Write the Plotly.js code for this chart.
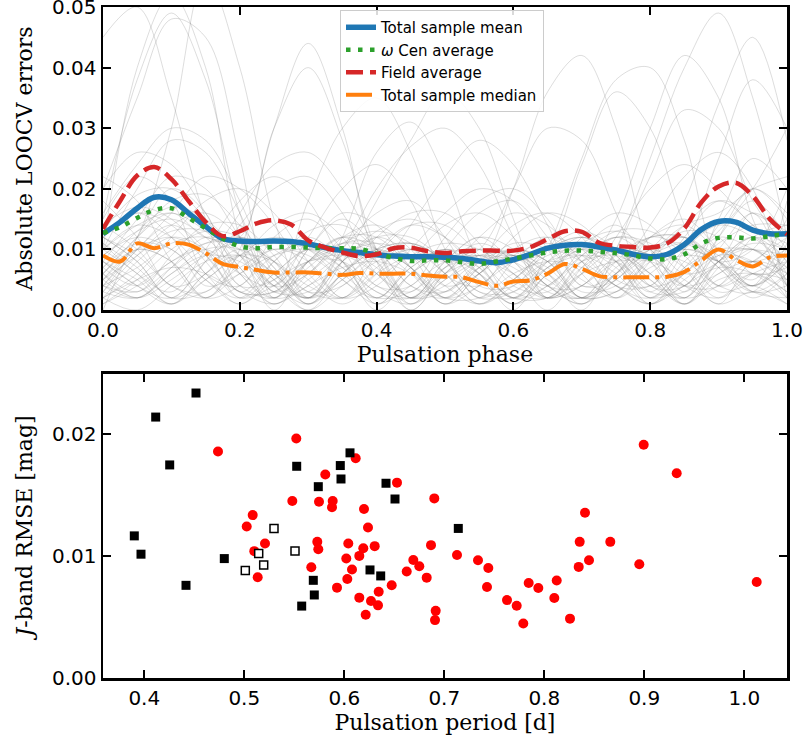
<!DOCTYPE html>
<html>
<head>
<meta charset="utf-8">
<script src="https://cdn.plot.ly/plotly-3.0.1.min.js"></script>
<style>html,body{margin:0;padding:0;background:#fff;}#chart{width:805px;height:738px;}</style>
</head>
<body>
<div id="chart"></div>
<script>
// ---------- Top panel: phase grid ----------
const phaseCoarse = [0,0.05,0.1,0.15,0.2,0.25,0.3,0.35,0.4,0.45,0.5,0.55,0.6,0.65,0.7,0.75,0.8,0.85,0.9,0.95,1.0];
const phaseFine = [0,0.025,0.05,0.075,0.1,0.125,0.15,0.175,0.2,0.225,0.25,0.275,0.3,0.325,0.35,0.375,0.4,0.425,0.45,0.475,0.5,0.525,0.55,0.575,0.6,0.625,0.65,0.675,0.7,0.725,0.75,0.775,0.8,0.825,0.85,0.875,0.9,0.925,0.95,0.975,1.0];

// individual star LOOCV error curves (grey)
const starCurves = [
 [.010,.040,.052,.040,.012,.000,.008,.012,.008,.000,.006,.010,.006,.000,.007,.012,.010,.003,.010,.016,.012],
 [.020,.035,.048,.045,.025,.002,.010,.015,.010,.002,.008,.012,.008,.004,.010,.014,.008,.004,.015,.025,.020],
 [.005,.010,.008,.002,.010,.030,.044,.030,.008,.000,.006,.009,.005,.002,.008,.010,.006,.001,.007,.012,.008],
 [.008,.004,.001,.006,.009,.005,.000,.006,.010,.007,.001,.006,.010,.006,.000,.010,.025,.040,.049,.035,.012],
 [.012,.008,.002,.008,.012,.008,.001,.008,.018,.028,.036,.030,.015,.002,.008,.012,.008,.001,.008,.012,.010],
 [.003,.010,.014,.010,.002,.006,.010,.007,.000,.006,.010,.008,.020,.036,.042,.030,.010,.002,.012,.020,.015],
 [.015,.022,.018,.006,.004,.012,.015,.010,.002,.007,.010,.006,.000,.010,.025,.038,.040,.028,.008,.004,.010],
 [.006,.002,.007,.012,.010,.003,.006,.010,.008,.001,.007,.011,.008,.002,.006,.015,.030,.042,.035,.015,.004],
 [.000,.012,.020,.016,.004,.005,.010,.008,.001,.006,.009,.006,.001,.006,.010,.008,.003,.010,.025,.038,.030],
 [.010,.006,.001,.006,.010,.006,.002,.012,.026,.031,.022,.008,.002,.008,.012,.008,.001,.007,.012,.010,.006],
 [.004,.012,.030,.055,.040,.015,.002,.008,.012,.009,.002,.006,.009,.006,.001,.007,.010,.007,.002,.006,.008],
 [.045,.050,.035,.015,.003,.008,.012,.008,.001,.006,.009,.007,.002,.007,.011,.009,.002,.008,.013,.020,.030],
 [.008,.015,.022,.020,.012,.004,.012,.020,.024,.018,.006,.004,.010,.012,.008,.002,.008,.014,.018,.014,.008],
 [.018,.012,.004,.006,.014,.020,.022,.016,.006,.003,.010,.016,.018,.012,.004,.005,.012,.015,.010,.004,.018],
 [.002,.008,.012,.010,.004,.002,.008,.012,.010,.004,.003,.008,.010,.008,.003,.004,.009,.012,.008,.003,.002],
 [.010,.020,.028,.026,.016,.004,.006,.012,.014,.010,.004,.006,.012,.016,.014,.008,.002,.006,.010,.008,.010],
 [.006,.003,.009,.014,.014,.009,.002,.005,.010,.014,.012,.007,.002,.006,.012,.016,.014,.007,.001,.008,.006],
 [.012,.016,.012,.004,.006,.010,.008,.002,.006,.014,.022,.028,.024,.014,.004,.006,.012,.010,.004,.008,.012],
 [.004,.010,.016,.022,.020,.014,.006,.002,.009,.014,.014,.009,.002,.004,.009,.012,.011,.006,.008,.016,.004],
 [.014,.010,.004,.003,.009,.012,.010,.005,.002,.007,.010,.008,.003,.002,.007,.010,.009,.004,.004,.012,.014],
 [.007,.004,.008,.010,.006,.004,.018,.030,.035,.026,.010,.002,.008,.012,.010,.004,.004,.010,.014,.012,.007],
 [.020,.026,.024,.016,.006,.002,.008,.012,.012,.007,.001,.006,.010,.008,.002,.005,.010,.012,.008,.010,.020],
 [.002,.006,.012,.018,.020,.016,.008,.002,.004,.010,.016,.020,.018,.010,.002,.006,.014,.022,.026,.020,.002],
 [.010,.014,.012,.006,.001,.006,.010,.010,.006,.001,.005,.009,.009,.005,.002,.010,.022,.033,.030,.018,.010],
 [.005,.002,.005,.009,.011,.008,.003,.004,.009,.011,.008,.002,.005,.010,.012,.009,.003,.003,.008,.010,.005],
 [.016,.024,.030,.028,.018,.006,.002,.010,.016,.018,.012,.004,.004,.010,.013,.010,.004,.006,.014,.020,.016],
 [.008,.004,.002,.008,.016,.024,.026,.020,.010,.002,.006,.012,.016,.014,.008,.002,.006,.010,.008,.004,.008],
 [.012,.008,.002,.005,.009,.008,.004,.002,.007,.010,.008,.010,.020,.030,.028,.016,.004,.004,.012,.018,.012],
 [.003,.009,.014,.016,.012,.005,.002,.008,.013,.015,.012,.006,.001,.006,.011,.013,.010,.004,.002,.006,.003],
 [.012,.016,.014,.008,.002,.004,.008,.008,.004,.002,.006,.008,.006,.002,.004,.008,.010,.018,.034,.045,.028],
 [.001,.005,.010,.013,.012,.007,.002,.006,.012,.016,.016,.011,.004,.003,.009,.013,.013,.009,.003,.004,.001],
 [.009,.013,.015,.012,.006,.001,.005,.009,.010,.007,.002,.004,.009,.011,.009,.004,.002,.007,.010,.010,.009],
 [.006,.012,.016,.012,.012,.030,.040,.028,.010,.002,.008,.012,.010,.004,.002,.008,.012,.012,.007,.003,.006],
 [.022,.018,.008,.002,.008,.014,.016,.012,.004,.004,.012,.018,.020,.015,.006,.002,.009,.014,.016,.020,.022],
 [.004,.002,.006,.010,.010,.006,.002,.010,.020,.027,.030,.024,.012,.002,.006,.010,.009,.004,.006,.010,.004],
 [.013,.019,.020,.015,.007,.002,.007,.011,.011,.007,.003,.008,.014,.016,.012,.005,.004,.012,.018,.016,.013],
 [.007,.011,.010,.005,.002,.008,.013,.014,.010,.004,.002,.007,.011,.010,.005,.003,.009,.013,.012,.006,.007],
 [.015,.038,.049,.038,.016,.003,.010,.016,.014,.007,.002,.007,.010,.008,.002,.006,.012,.014,.010,.008,.015],
 [.005,.010,.012,.009,.003,.003,.008,.010,.007,.002,.004,.008,.008,.010,.024,.036,.030,.014,.004,.006,.005],
 [.011,.006,.003,.010,.018,.022,.018,.008,.002,.008,.014,.016,.012,.004,.004,.012,.020,.024,.020,.014,.011],
 [.006,.010,.008,.002,.004,.009,.011,.008,.003,.002,.007,.010,.009,.004,.001,.006,.010,.011,.007,.002,.006],
 [.002,.000,.004,.008,.009,.006,.001,.005,.009,.010,.006,.001,.004,.008,.009,.006,.001,.005,.009,.008,.002],
 [.009,.012,.010,.005,.001,.005,.008,.009,.006,.002,.003,.007,.009,.007,.002,.003,.008,.010,.008,.004,.009],
 [.004,.007,.011,.012,.009,.004,.000,.004,.008,.010,.009,.005,.001,.004,.008,.009,.006,.002,.004,.008,.004],
 [.011,.007,.002,.003,.007,.010,.009,.005,.001,.004,.008,.009,.007,.003,.002,.006,.009,.008,.004,.003,.011],
 [.001,.004,.008,.011,.011,.008,.003,.002,.006,.009,.009,.006,.002,.002,.006,.008,.008,.005,.001,.003,.001],
 [.007,.013,.017,.015,.009,.002,.004,.009,.011,.009,.004,.001,.005,.009,.010,.007,.002,.004,.009,.010,.007],
 [.014,.017,.015,.009,.003,.003,.008,.011,.010,.006,.001,.004,.008,.010,.008,.004,.001,.006,.011,.014,.014],
 [.003,.002,.006,.009,.008,.004,.001,.006,.010,.011,.008,.003,.002,.007,.010,.010,.006,.001,.005,.006,.003],
 [.008,.005,.001,.005,.009,.011,.010,.006,.002,.003,.007,.009,.008,.004,.001,.005,.009,.011,.009,.004,.008],
 [.005,.009,.013,.013,.009,.003,.003,.008,.012,.012,.008,.002,.003,.008,.011,.010,.005,.001,.006,.008,.005],
 [.010,.014,.016,.013,.007,.001,.006,.011,.013,.011,.006,.001,.005,.010,.012,.010,.005,.002,.008,.011,.010],
 [.002,.005,.007,.006,.003,.001,.004,.007,.008,.006,.002,.002,.006,.008,.007,.004,.001,.004,.007,.006,.002],
 [.012,.009,.004,.002,.006,.009,.010,.007,.003,.001,.005,.008,.009,.006,.002,.003,.007,.009,.008,.005,.012],
 [.006,.012,.018,.019,.014,.007,.001,.006,.010,.011,.008,.003,.003,.007,.009,.008,.004,.002,.008,.012,.006],
 [.004,.003,.007,.011,.012,.010,.005,.001,.005,.009,.011,.010,.006,.002,.004,.009,.012,.012,.008,.003,.004]
];

const totalMean = [.0126,.0145,.0168,.0186,.0182,.0160,.0138,.0118,.0114,.0113,.0114,.0113,.0109,.0103,.0098,.0095,.0091,.0089,.0088,.0088,.0087,.0085,.0081,.0078,.0083,.0092,.0102,.0107,.0108,.0104,.0099,.0092,.0088,.0092,.0108,.0133,.0146,.0145,.0132,.0126,.0126];
const omegaCenAvg = [.0127,.0137,.0152,.0165,.0168,.0152,.0135,.0118,.0105,.0102,.0104,.0104,.0103,.0102,.0102,.0101,.0093,.0086,.0081,.0082,.0082,.0079,.0076,.0080,.0085,.0090,.0095,.0098,.0098,.0096,.0094,.0090,.0085,.0084,.0092,.0110,.0119,.0120,.0118,.0122,.0126];
const fieldAvg = [.0134,.0180,.0222,.0236,.0216,.0180,.0145,.0122,.0130,.0143,.0148,.0141,.0115,.0103,.0095,.0089,.0092,.0102,.0103,.0097,.0094,.0097,.0098,.0098,.0098,.0104,.0117,.0130,.0129,.0111,.0106,.0104,.0103,.0110,.0135,.0178,.0204,.0210,.0188,.0150,.0125];
const totalMedian = [.0090,.0080,.0110,.0102,.0110,.0108,.0094,.0076,.0071,.0066,.0062,.0062,.0062,.0060,.0058,.0061,.0060,.0060,.0060,.0057,.0055,.0054,.0046,.0040,.0047,.0049,.0060,.0076,.0068,.0056,.0054,.0054,.0054,.0055,.0063,.0082,.0100,.0083,.0072,.0087,.0090];

const legendNames = ['Total sample mean','<i>ω</i> Cen average','Field average','Total sample median'];

// ---------- Bottom panel: period vs RMSE ----------
const redPeriod = [0.4737,0.552,0.6114,0.581,0.6527,0.548,0.5747,0.5884,0.5877,0.6197,0.5084,0.5024,0.6237,0.5207,0.573,0.574,0.604,0.619,0.6304,0.510,0.615,0.602,0.567,0.6077,0.5134,0.603,0.5927,0.6474,0.6344,0.615,0.6267,0.6337,0.6214,0.6624,0.669,0.675,0.6824,0.6867,0.690,0.6914,0.6907,0.7127,0.7337,0.744,0.7427,0.7627,0.7724,0.779,0.7844,0.794,0.8124,0.810,0.8257,0.8344,0.8354,0.8447,0.8407,0.866,0.895,0.8994,0.9324,1.0124];
const redRmse = [0.01855,0.01961,0.0180,0.01666,0.0160,0.0145,0.01444,0.0145,0.01398,0.01384,0.01334,0.01241,0.01233,0.01102,0.01115,0.01055,0.01102,0.01063,0.0108,0.01039,0.0100,0.00979,0.00907,0.00888,0.00825,0.00811,0.0074,0.00759,0.00707,0.00658,0.0063,0.00595,0.00518,0.00872,0.00967,0.00915,0.00822,0.01088,0.01471,0.0055,0.00474,0.01008,0.00965,0.00901,0.00745,0.00638,0.00592,0.00447,0.00778,0.00737,0.00798,0.00655,0.00486,0.0091,0.01115,0.00965,0.01353,0.01115,0.00932,0.0191,0.01677,0.00786];
const blackPeriod = [0.4517,0.4114,0.4254,0.390,0.3967,0.4417,0.480,0.5524,0.574,0.6057,0.596,0.5967,0.6417,0.6507,0.569,0.570,0.5574,0.6257,0.6364,0.714];
const blackRmse = [0.02334,0.02137,0.01745,0.01164,0.01014,0.00759,0.00978,0.01734,0.01567,0.01844,0.0174,0.0163,0.01595,0.01466,0.0080,0.0068,0.00589,0.00885,0.00836,0.01225];
const openPeriod = [0.5297,0.5144,0.5194,0.501,0.5507];
const openRmse = [0.01225,0.0102,0.00926,0.0088,0.01041];

const topXTicks = [0,0.2,0.4,0.6,0.8,1.0];
const topYTicks = [0,0.01,0.02,0.03,0.04,0.05];
const botXTicks = [0.4,0.5,0.6,0.7,0.8,0.9,1.0];
const botYTicks = [0,0.01,0.02];

const traces = [];
starCurves.forEach(c => traces.push({
  x: phaseCoarse, y: c, xaxis:'x', yaxis:'y', mode:'lines', type:'scatter',
  line:{color:'rgba(128,128,128,0.27)', width:1, shape:'spline', smoothing:1.0},
  showlegend:false, hoverinfo:'skip'
}));
traces.push({x:phaseFine, y:totalMean, name:legendNames[0], mode:'lines', xaxis:'x', yaxis:'y',
  line:{color:'#1f77b4', width:5.5, shape:'spline'}});
traces.push({x:phaseFine, y:omegaCenAvg, name:legendNames[1], mode:'lines', xaxis:'x', yaxis:'y',
  line:{color:'#2ca02c', width:4.5, shape:'spline', dash:'4.5px,7.5px'}});
traces.push({x:phaseFine, y:fieldAvg, name:legendNames[2], mode:'lines', xaxis:'x', yaxis:'y',
  line:{color:'#d62728', width:4.5, shape:'spline', dash:'17px,7px'}});
traces.push({x:phaseFine, y:totalMedian, name:legendNames[3], mode:'lines', xaxis:'x', yaxis:'y',
  line:{color:'#ff7f0e', width:4, shape:'spline', dash:'26px,6px,4px,6px'}});

traces.push({x:redPeriod, y:redRmse, mode:'markers', xaxis:'x2', yaxis:'y2', showlegend:false,
  marker:{symbol:'circle', size:10, color:'#ff0000', line:{width:0}}});
traces.push({x:blackPeriod, y:blackRmse, mode:'markers', xaxis:'x2', yaxis:'y2', showlegend:false,
  marker:{symbol:'square', size:9, color:'#000000', line:{width:0}}});
traces.push({x:openPeriod, y:openRmse, mode:'markers', xaxis:'x2', yaxis:'y2', showlegend:false,
  marker:{symbol:'square', size:8, color:'#ffffff', line:{width:1.5, color:'#000000'}}});

const axisBase = {
  showline:true, linecolor:'#000', linewidth:2.5, mirror:'ticks',
  ticks:'inside', ticklen:8, tickwidth:2, tickcolor:'#000',
  showgrid:false, zeroline:false, automargin:false, ticklabeloverflow:'allow',
  tickfont:{family:'DejaVu Sans', size:20, color:'#000'}
};
const titleFont = {family:'DejaVu Serif', size:22, color:'#000'};

const layout = {
  width:805, height:738,
  margin:{l:103, r:18, t:7, b:60},
  paper_bgcolor:'#fff', plot_bgcolor:'#fff',
  font:{family:'DejaVu Sans', color:'#000'},
  showlegend:true,
  legend:{x:0.3465, y:0.9955, xanchor:'left', yanchor:'top',
    bgcolor:'rgba(255,255,255,0.85)', bordercolor:'#cccccc', borderwidth:1,
    font:{family:'DejaVu Sans', size:15, color:'#000'}},
  xaxis: Object.assign({}, axisBase, {anchor:'y', domain:[0,1], range:[0,1],
    tickmode:'array', tickvals:topXTicks, tickformat:'.1f',
    title:{text:'Pulsation phase', font:titleFont, standoff:6}}),
  yaxis: Object.assign({}, axisBase, {anchor:'x', domain:[0.5484,1], range:[0,0.0500001],
    tickmode:'array', tickvals:topYTicks, tickformat:'.2f',
    title:{text:'Absolute LOOCV errors', font:titleFont, standoff:14}}),
  xaxis2: Object.assign({}, axisBase, {anchor:'y2', domain:[0,1], range:[0.3587,1.0427],
    tickmode:'array', tickvals:botXTicks, tickformat:'.1f',
    title:{text:'Pulsation period [d]', font:titleFont, standoff:6}}),
  yaxis2: Object.assign({}, axisBase, {anchor:'x2', domain:[0,0.4531], range:[0,0.0249],
    tickmode:'array', tickvals:botYTicks, tickformat:'.2f',
    title:{text:'<i>J</i>-band RMSE [mag]', font:titleFont, standoff:14}})
};

Plotly.newPlot('chart', traces, layout, {displayModeBar:false, staticPlot:true});
</script>
</body>
</html>
